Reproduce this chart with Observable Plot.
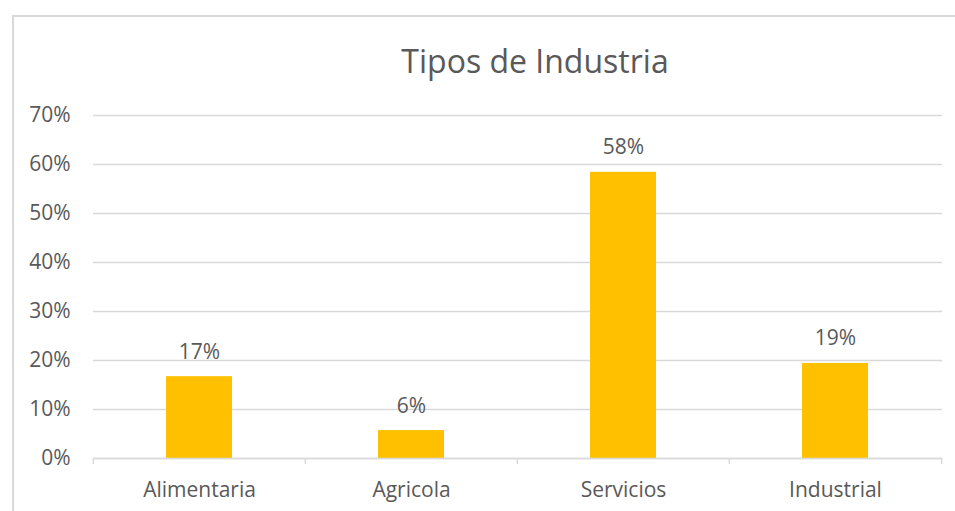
<!DOCTYPE html>
<html><head><meta charset="utf-8">
<script src="https://cdn.jsdelivr.net/npm/d3@7"></script>
<script src="https://cdn.jsdelivr.net/npm/@observablehq/plot@0.6"></script>
<style>
body{margin:0;background:#fff;}
#wrap{position:relative;width:955px;height:511px;overflow:hidden;font-family:"Open Sans",sans-serif;}
#frame{position:absolute;left:12px;top:15px;width:960px;height:520px;border:2px solid #d9d9d9;box-sizing:border-box;}
#title{position:absolute;left:0;width:1070px;top:39px;text-align:center;font-size:32px;line-height:1.362;color:#595959;white-space:nowrap;}
#chart{position:absolute;left:0;top:0;}
</style></head>
<body><div id="wrap"><div id="frame"></div><div id="title">Tipos de Industria</div><div id="chart"></div></div>
<script>
const categories = ["Alimentaria", "Agricola", "Servicios", "Industrial"];
const values = [0.167, 0.057, 0.584, 0.194];
const labels = ["17%", "6%", "58%", "19%"];
const yTicks = [0, 0.1, 0.2, 0.3, 0.4, 0.5, 0.6, 0.7];

const data = categories.map((c, i) => ({cat: c, v: values[i], label: labels[i]}));
const W = 955, H = 511, mL = 93, mR = 13, mT = 115, mB = 53;
const step = (W - mL - mR) / categories.length;
const gray = "#595959", grid = "#d9d9d9";

const plot = Plot.plot({
  width: W, height: H,
  marginLeft: mL, marginRight: mR, marginTop: mT, marginBottom: mB,
  style: {fontFamily: "Open Sans, sans-serif", fontSize: "21px", color: gray, background: "transparent", overflow: "visible"},
  x: {type: "band", domain: categories, paddingInner: 0.687, paddingOuter: 0.3435, label: null},
  y: {type: "linear", domain: [0, 0.7], label: null},
  marks: [
    Plot.gridY(yTicks, {stroke: grid, strokeOpacity: 1, strokeWidth: 1.5}),
    Plot.axisY(yTicks, {tickSize: 0, tickPadding: 23, tickFormat: d => Math.round(d * 100) + "%", fontSize: 21, fill: gray, label: null}),
    Plot.barY(data, {x: "cat", y: "v", fill: "#FFC000"}),
    Plot.ruleY([0], {stroke: grid, strokeWidth: 1.5}),
    Plot.ruleX(categories, {x: d => d, y1: 0, y2: 0, dx: -step / 2, insetBottom: -6, stroke: grid, strokeWidth: 1.5}),
    Plot.ruleX(categories.slice(-1), {x: d => d, y1: 0, y2: 0, dx: step / 2, insetBottom: -6, stroke: grid, strokeWidth: 1.5}),
    Plot.axisX({tickSize: 0, tickPadding: 24, fontSize: 21, fill: gray, label: null}),
    Plot.text(data, {x: "cat", y: "v", text: "label", dy: -18, lineAnchor: "bottom", fontSize: 21, fill: gray})
  ]
});
document.getElementById("chart").append(plot);
</script></body></html>
